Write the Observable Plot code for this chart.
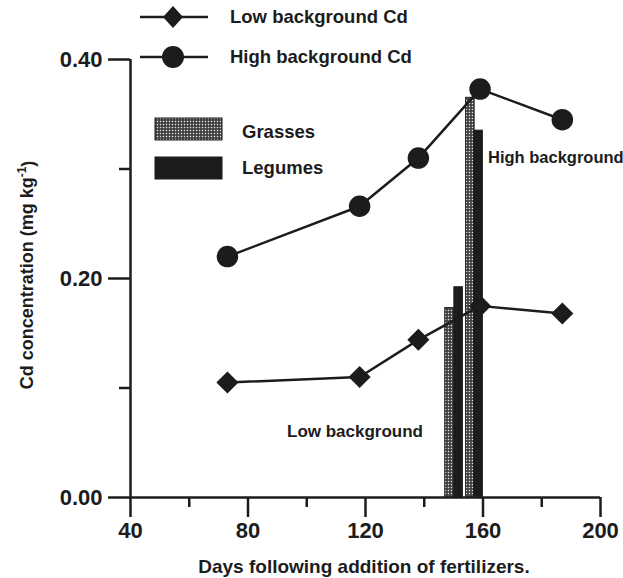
<!DOCTYPE html>
<html>
<head>
<meta charset="utf-8">
<script src="https://cdn.jsdelivr.net/npm/d3@7"></script>
<script src="https://cdn.jsdelivr.net/npm/@observablehq/plot@0.6"></script>
<style>
  html, body { margin: 0; padding: 0; background: #fff; }
  #chart { position: relative; width: 623px; height: 578px; }
</style>
</head>
<body>
<div id="chart"></div>
<script>
// ---- data ----
const days = [73, 118, 138, 159, 187];
const lowCd = [0.105, 0.110, 0.144, 0.175, 0.168];
const highCd = [0.220, 0.266, 0.310, 0.373, 0.345];

const barGroups = ["Low background", "Low background", "High background", "High background"];
const barTypes = ["Grasses", "Legumes", "Grasses", "Legumes"];
const barDays = [148.6, 151.7, 155.7, 158.5];
const barCd = [0.173, 0.192, 0.365, 0.335];

const xMajorTicks = [40, 80, 120, 160, 200];
const xMinorTicks = [60, 100, 140, 180];
const yMajorTicks = [0, 0.2, 0.4];
const yMinorTicks = [0.1, 0.3];

const lineLabels = ["Low background Cd", "High background Cd"];
const barLabels = ["Grasses", "Legumes"];

// ---- tables built from arrays ----
const low = days.map((d, i) => ({day: d, cd: lowCd[i]}));
const high = days.map((d, i) => ({day: d, cd: highCd[i]}));
const bars = barDays.map((d, i) => ({group: barGroups[i], type: barTypes[i], day: d, cd: barCd[i]}));
const halfW = 1.45;
const ink = "#1c1c1c";
const font = "'Liberation Sans', Arial, Helvetica, sans-serif";

const plot = Plot.plot({
  width: 623,
  height: 578,
  marginLeft: 130,
  marginRight: 23,
  marginTop: 59,
  marginBottom: 81,
  x: {domain: [40, 200]},
  y: {domain: [0, 0.4]},
  style: {fontFamily: font, fontWeight: "bold", color: ink, background: "#fff", overflow: "visible"},
  marks: [
    Plot.rectY(bars.filter(d => d.type === "Grasses"), {x1: d => d.day - halfW, x2: d => d.day + halfW, y: "cd", fill: "url(#stipple)", stroke: ink, strokeWidth: 1}),
    Plot.rectY(bars.filter(d => d.type === "Legumes"), {x1: d => d.day - halfW, x2: d => d.day + halfW, y: "cd", fill: ink, stroke: ink, strokeWidth: 1}),
    Plot.ruleY([0], {stroke: ink, strokeWidth: 2.5}),
    Plot.ruleX([40], {stroke: ink, strokeWidth: 2.5}),
    Plot.axisX({ticks: xMajorTicks, tickSize: 20, tickPadding: 5, tickFormat: d => String(d), fontSize: 22, label: null, stroke: ink, strokeWidth: 2.5}),
    Plot.axisX({ticks: xMinorTicks, tickSize: 10, text: null, label: null, stroke: ink, strokeWidth: 2.5}),
    Plot.axisY({ticks: yMajorTicks, tickSize: 22, tickPadding: 6, tickFormat: d => d.toFixed(2), fontSize: 22, label: null, stroke: ink, strokeWidth: 2.5}),
    Plot.axisY({ticks: yMinorTicks, tickSize: 11, text: null, label: null, stroke: ink, strokeWidth: 2.5}),
    Plot.line(low, {x: "day", y: "cd", stroke: ink, strokeWidth: 2.5}),
    Plot.line(high, {x: "day", y: "cd", stroke: ink, strokeWidth: 2.5}),
    Plot.dot(low, {x: "day", y: "cd", symbol: "diamond2", r: 9, fill: ink, stroke: ink}),
    Plot.dot(high, {x: "day", y: "cd", symbol: "circle", r: 10, fill: ink, stroke: ink})
  ]
});

document.getElementById("chart").appendChild(plot);

// pattern for the grasses bars
const svg = d3.select(plot);
const defs = svg.insert("defs", ":first-child");
const pat = defs.append("pattern").attr("id", "stipple").attr("patternUnits", "userSpaceOnUse")
  .attr("width", 3).attr("height", 3);
pat.append("rect").attr("width", 3).attr("height", 3).attr("fill", "#3a3a3a");
pat.append("rect").attr("x", 0.8).attr("y", 0.8).attr("width", 1.4).attr("height", 1.4).attr("fill", "#e8e8e8");

// legend + annotations (pixel layout)
const g = svg.append("g").attr("font-family", font).attr("font-weight", "bold")
  .attr("fill", ink).attr("text-anchor", "start");

// line legend
const lg = [[17, "diamond"], [57, "circle"]];
lg.forEach(([y, sym], i) => {
  g.append("line").attr("x1", 140).attr("x2", 208).attr("y1", y).attr("y2", y).attr("stroke", ink).attr("stroke-width", 2.5);
  if (sym === "circle") g.append("circle").attr("cx", 173).attr("cy", y).attr("r", 11).attr("fill", ink);
  else g.append("path").attr("d", `M173,${y - 11}L183,${y}L173,${y + 11}L163,${y}Z`).attr("fill", ink);
  g.append("text").attr("x", 230).attr("y", y).attr("dy", "0.35em").attr("font-size", 18.5).text(lineLabels[i]);
});

// bar legend
const bl = [[118, "url(#stipple)", 132], [157, ink, 168]];
bl.forEach(([y, f, ty], i) => {
  g.append("rect").attr("x", 155).attr("y", y).attr("width", 67).attr("height", 22).attr("fill", f).attr("stroke", ink).attr("stroke-width", 1);
  g.append("text").attr("x", 242).attr("y", ty).attr("dy", "0.35em").attr("font-size", 18.5).text(barLabels[i]);
});

// annotations
g.append("text").attr("x", 488).attr("y", 157).attr("dy", "0.35em").attr("font-size", 16.5).text(barGroups[2]);
g.append("text").attr("x", 287).attr("y", 431).attr("dy", "0.35em").attr("font-size", 17).text(barGroups[0]);

// y-axis title
const yt = g.append("text").attr("transform", "translate(33,275) rotate(-90)").attr("text-anchor", "middle").attr("font-size", 18);
yt.append("tspan").text("Cd concentration (mg kg");
yt.append("tspan").attr("font-size", 12).attr("dy", "-0.6em").text("-1");
yt.append("tspan").attr("dy", "0.45em").text(")");

// x-axis title
g.append("text").attr("x", 364).attr("y", 566).attr("text-anchor", "middle").attr("dy", "0.35em").attr("font-size", 19).text("Days following addition of fertilizers.");
</script>
</body>
</html>
